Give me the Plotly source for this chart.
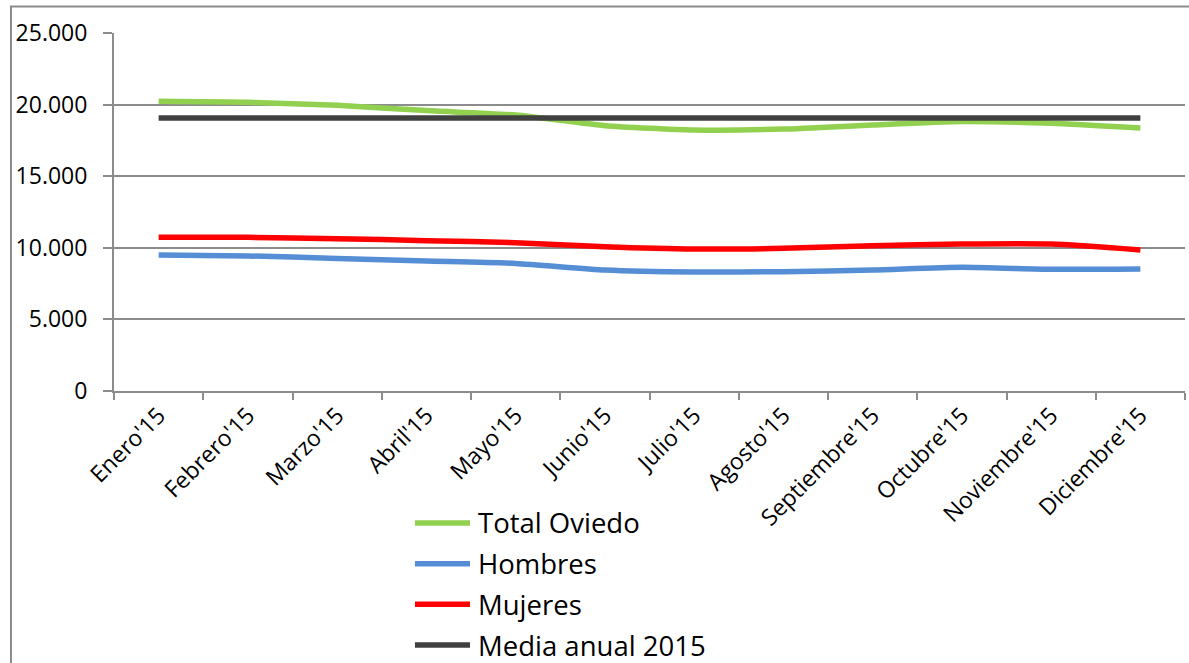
import plotly.graph_objects as go

months = ["Enero'15", "Febrero'15", "Marzo'15", "Abril'15", "Mayo'15", "Junio'15",
          "Julio'15", "Agosto'15", "Septiembre'15", "Octubre'15", "Noviembre'15", "Diciembre'15"]
total_oviedo = [20230, 20160, 19950, 19580, 19270, 18530, 18230, 18290, 18580, 18820, 18700, 18370]
hombres = [9500, 9430, 9260, 9080, 8910, 8450, 8310, 8330, 8450, 8640, 8500, 8520]
mujeres = [10730, 10730, 10640, 10500, 10360, 10080, 9920, 9960, 10150, 10260, 10260, 9850]
media_anual = [19060] * 12

series = [
    ("Total Oviedo", total_oviedo, "#92D050"),
    ("Hombres", hombres, "#558ED5"),
    ("Mujeres", mujeres, "#FF0000"),
    ("Media anual 2015", media_anual, "#404040"),
]

FONT = "Open Sans"
GRID = "#8C8C8C"
LW = 5.5

fig = go.Figure()
for name, vals, color in series:
    fig.add_trace(go.Scatter(
        x=months, y=vals, name=name, mode="lines", showlegend=False,
        line=dict(color=color, width=LW, shape="spline", smoothing=0.6),
    ))

fig.update_layout(
    width=1189, height=663,
    margin=dict(l=114, r=4, t=33, b=272),
    paper_bgcolor="white", plot_bgcolor="white",
    separators=",.",
    showlegend=False,
    font=dict(family=FONT, color="black"),
)

fig.update_xaxes(
    type="category", range=[-0.5, 11.5],
    tickangle=-45, tickfont=dict(family=FONT, size=23, color="black"),
    showline=True, linecolor=GRID, linewidth=2,
    ticks="outside", ticklen=7, tickcolor=GRID, tickwidth=2,
    tickson="boundaries", showgrid=False,
)
fig.update_yaxes(
    range=[0, 25000], dtick=5000, tick0=0, tickformat=",.0f",
    tickfont=dict(family=FONT, size=23, color="black"),
    showline=True, linecolor=GRID, linewidth=2,
    ticks="outside", ticklen=9, tickcolor=GRID, tickwidth=2,
    ticklabelstandoff=11,
    showgrid=True, gridcolor=GRID, gridwidth=2,
    zeroline=False,
)

# legend drawn below the plot (vertical list, long line samples)
leg_x0, leg_x1, leg_tx = 0.2810, 0.3324, 0.3380
leg_y0, leg_dy = -0.3687, -0.1136
for i, (name, _, color) in enumerate(series):
    yy = leg_y0 + i * leg_dy
    fig.add_shape(type="line", xref="paper", yref="paper",
                  x0=leg_x0, x1=leg_x1, y0=yy, y1=yy,
                  line=dict(color=color, width=LW))
    fig.add_annotation(xref="paper", yref="paper", x=leg_tx, y=yy,
                       text=name, showarrow=False, xanchor="left", yanchor="middle",
                       font=dict(family=FONT, size=27.5, color="black"))

# outer chart border (cropped in the reference)
fig.add_shape(type="rect", xref="paper", yref="paper",
              x0=-0.0962, x1=1.05, y0=-0.9, y1=1.074,
              line=dict(color=GRID, width=2), fillcolor="rgba(0,0,0,0)", layer="below")

fig.write_html("out.html", config={"displayModeBar": False},
               post_script="document.body.style.margin='0';document.body.style.overflow='hidden';")
